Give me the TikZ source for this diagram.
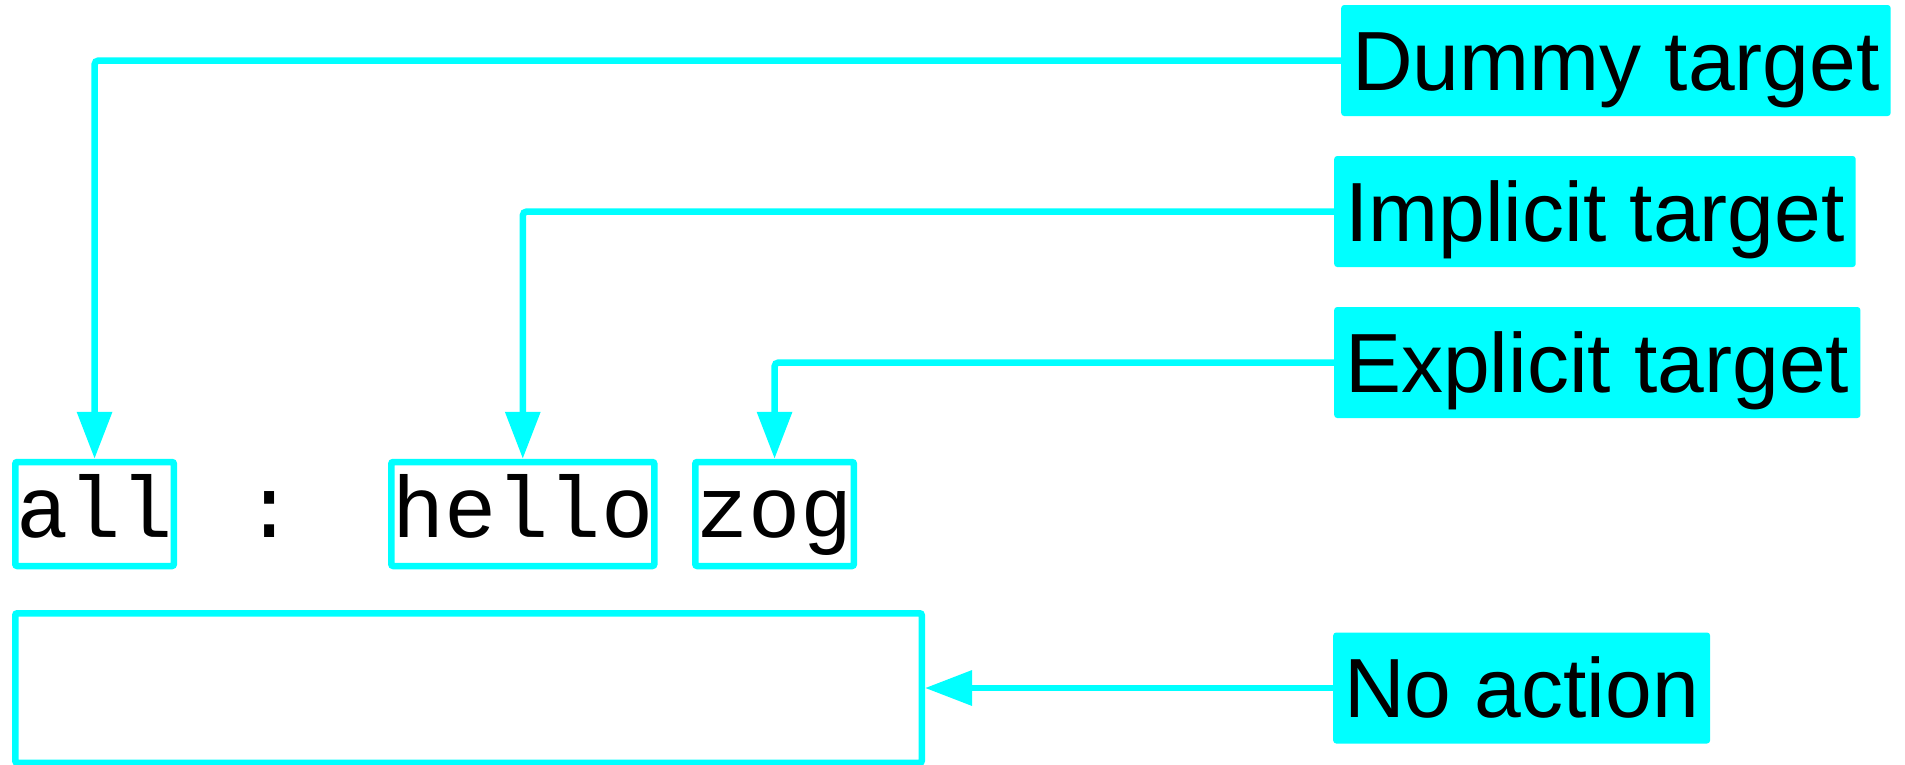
\documentclass[tikz,border=0pt]{standalone}
\usepackage{fontspec}
\usetikzlibrary{arrows.meta}
\newfontfamily\lblfont{Liberation Sans}
\newfontfamily\tokfont{Liberation Mono}
\definecolor{aqua}{RGB}{0,255,255}

\begin{document}
\begin{tikzpicture}[
  x=1pt, y=-1pt,
  lbl/.style={fill=aqua, rounded corners=3pt, anchor=west, inner xsep=11pt, inner ysep=0pt,
    minimum height=111pt, text height=76pt, text depth=17pt, font=\fontsize{84}{100}\lblfont},
  tok/.style={draw=aqua, line width=6.5pt, rounded corners=2pt, anchor=west, inner xsep=1pt, inner ysep=0pt,
    minimum height=104pt, text height=70pt, text depth=24pt, font=\fontsize{87}{104}\tokfont},
  conn/.style={draw=aqua, line width=6.5pt, rounded corners=4pt, -{Triangle[length=47pt,width=34pt]}},
]

\useasboundingbox (0,0) rectangle (1905,764);

\node [lbl] (dummy) at (1341,60.5) {Dummy target};
\node [lbl] (implicit) at (1334,211.5) {Implicit target};
\node [lbl] (explicit) at (1334,362.5) {Explicit target};
\node [lbl] (noaction) at (1333,688) {No action};

\node [tok] (all) at (12,514) {all};
\node [tok, draw=none, anchor=center] (colon) at (270,514) {:};
\node [tok] (hello) at (388,514) {hello};
\node [tok] (zog) at (692,514) {zog};

\node [tok, minimum width=906.5pt, minimum height=149.5pt] (blank) at (12,688) {};

\draw [conn] (dummy.west) -| (all.north);
\draw [conn] (implicit.west) -| (hello.north);
\draw [conn] (explicit.west) -| (zog.north);
\draw [conn] (noaction.west) -- (blank.east);

\end{tikzpicture}
\end{document}
